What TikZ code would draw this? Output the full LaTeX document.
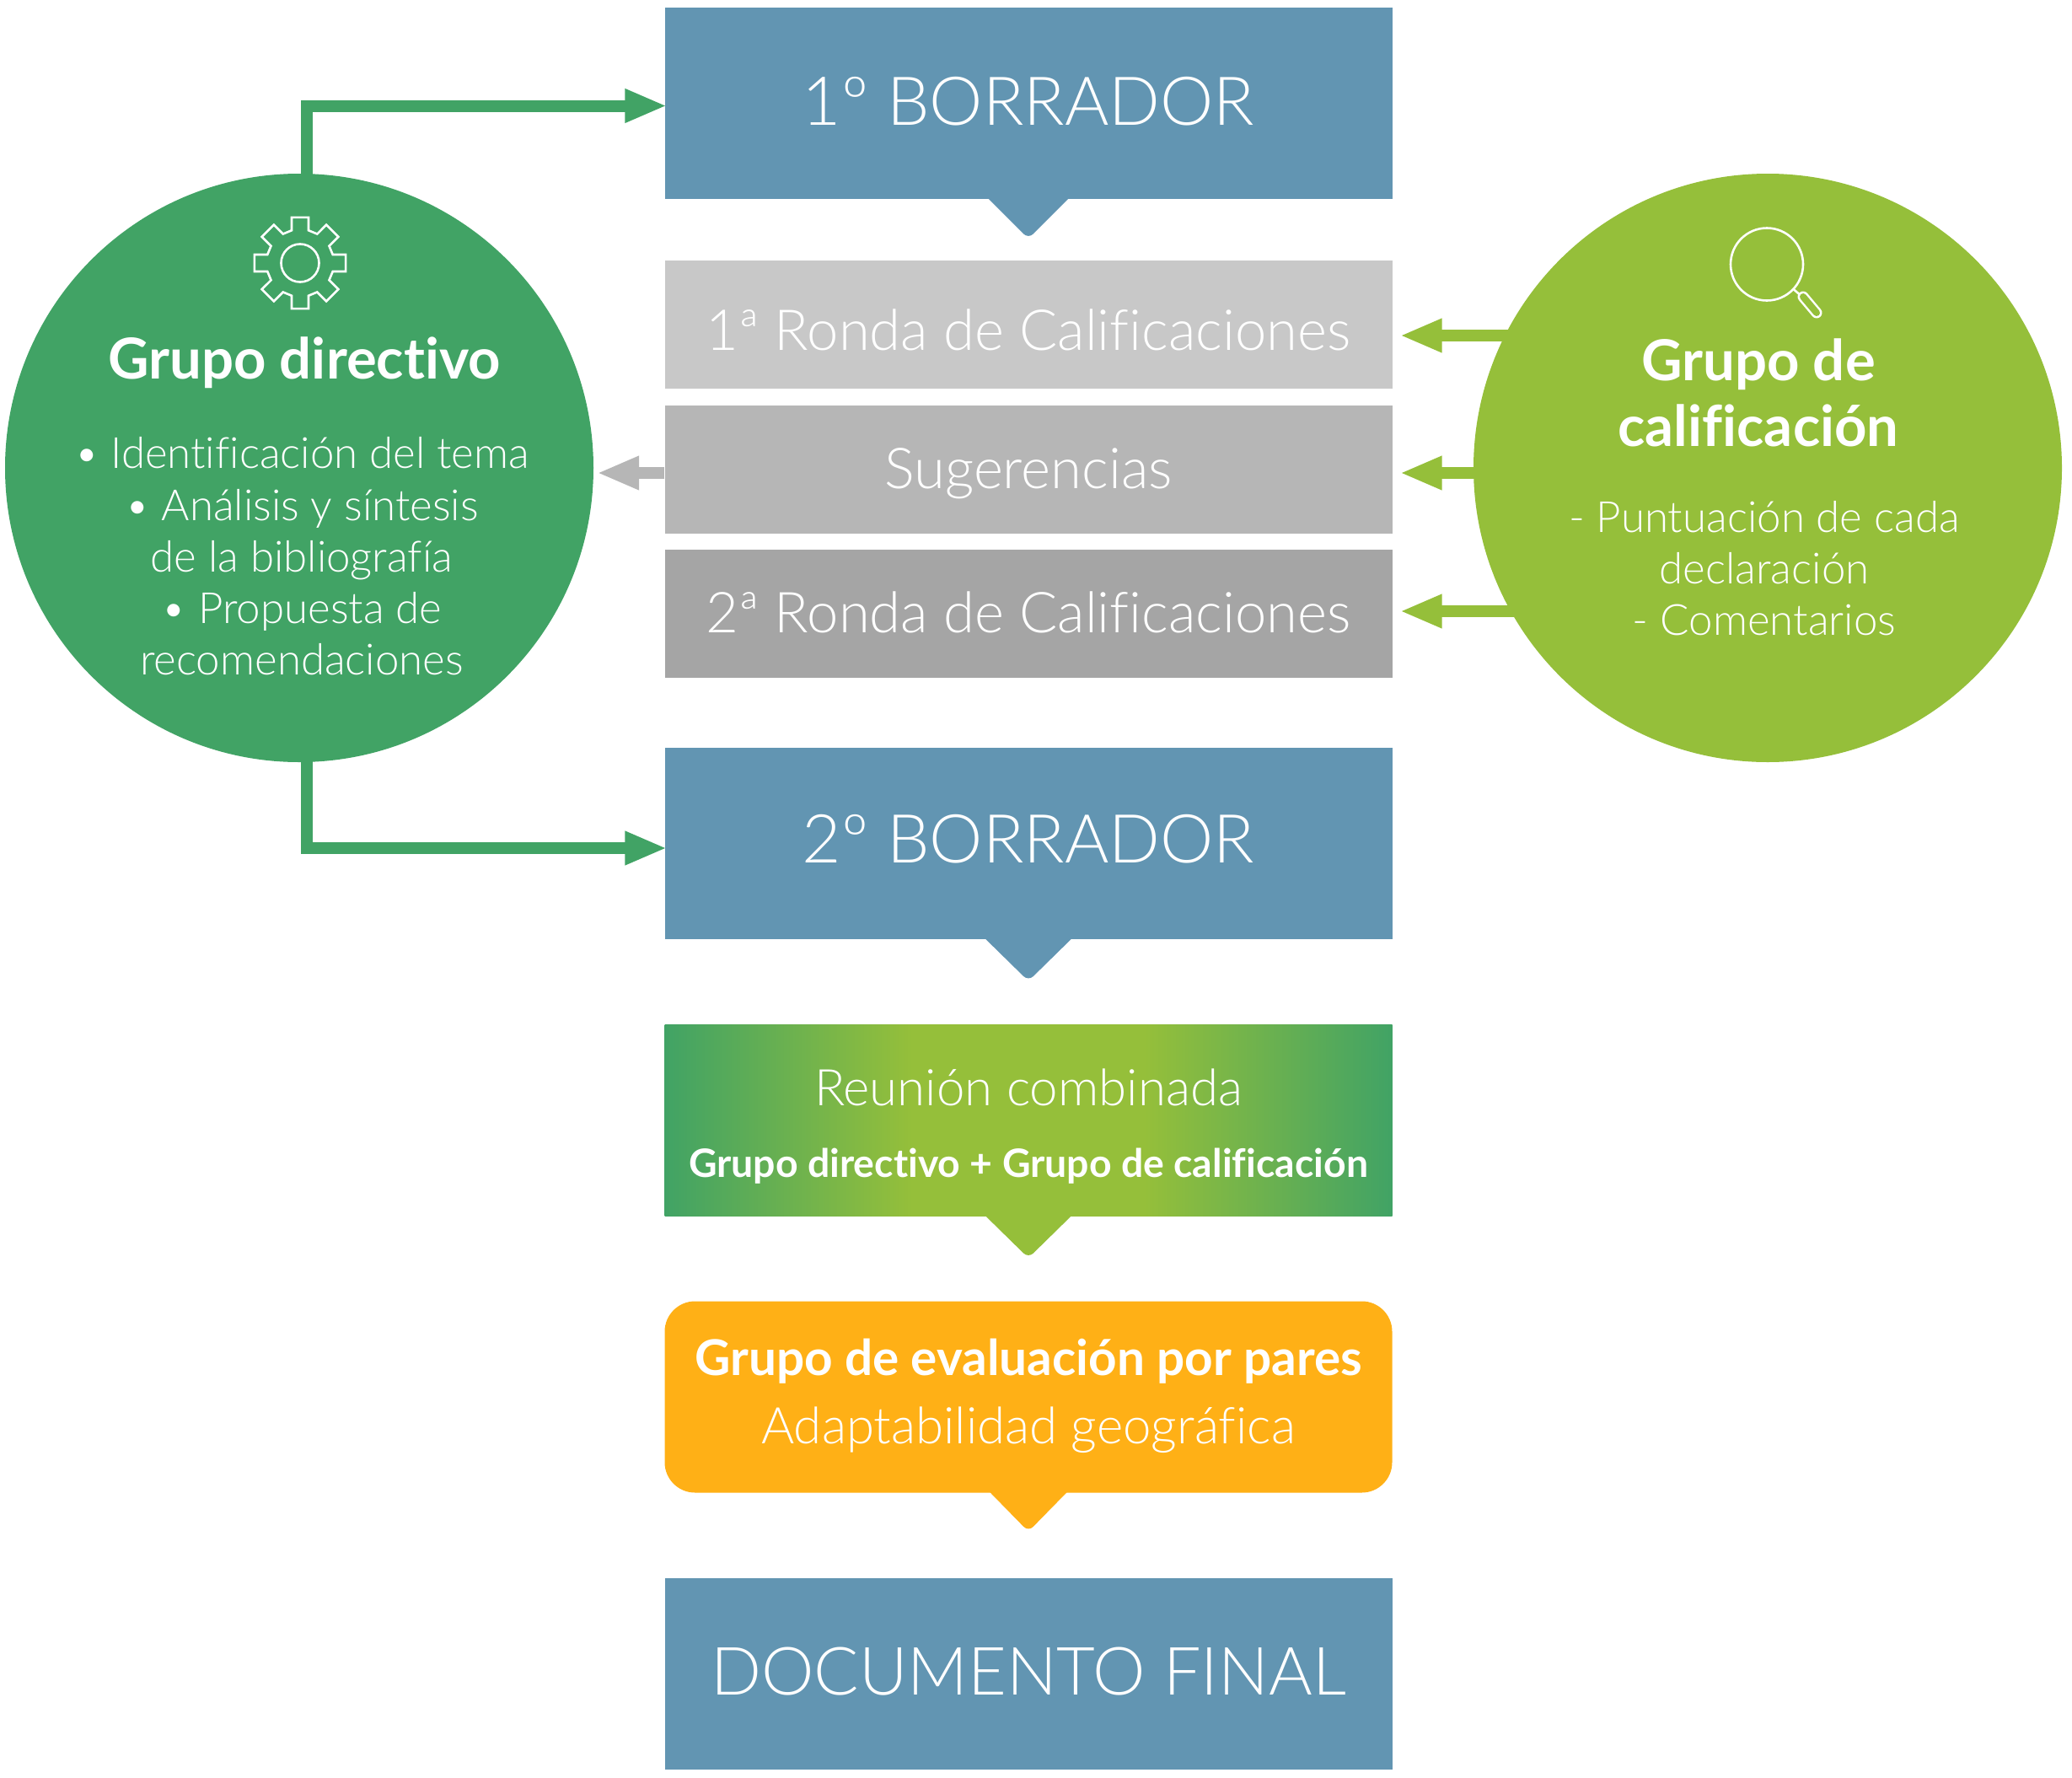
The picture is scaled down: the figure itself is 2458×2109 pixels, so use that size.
\documentclass[tikz,border=0pt]{standalone}
\usepackage{fontspec}
\usepackage{tikz}
\usetikzlibrary{arrows.meta,calc,shadings}
\setmainfont{Lato}[Ligatures=NoCommon]
\newfontfamily\lightfont{Lato Light}[Ligatures=NoCommon]
\definecolor{dirgreen} {HTML}{41A365}
\definecolor{callime}  {HTML}{95BF3A}
\definecolor{draftblue}{HTML}{6295B2}
\definecolor{peerorange}{HTML}{FFB016}
\definecolor{greya}    {HTML}{C8C8C8}
\definecolor{greyb}    {HTML}{B6B6B6}
\definecolor{greyc}    {HTML}{A5A5A5}
\pgfdeclarehorizontalshading{meeting}{100bp}{
  color(0bp)=(dirgreen); color(25bp)=(dirgreen); color(42bp)=(callime);
  color(58bp)=(callime); color(75bp)=(dirgreen); color(100bp)=(dirgreen)}
\tikzset{
  % --- nodes
  stage/.style  = {inner sep=0pt, minimum width=863pt, minimum height=227pt},
  roundbox/.style = {stage, minimum height=152pt},
  group/.style  = {circle, inner sep=0pt, minimum size=698pt},
  title/.style  = {align=center, text=white, font=\fontsize{67}{78}\selectfont\bfseries},
  body/.style   = {align=center, text=white, font=\fontsize{51}{61.3}\selectfont\lightfont},
  bigtxt/.style = {anchor=base, text=white, font=\fontsize{80}{96}\selectfont\lightfont},
  rowtxt/.style = {anchor=base, text=white, font=\fontsize{67}{80}\selectfont\lightfont},
  % --- edges
  icon/.style   = {draw=white, line width=2.6pt, line join=miter},
  feed/.style   = {-{Triangle[length=50pt,width=37pt]}, line width=14pt},
}
\begin{document}
\begin{tikzpicture}[x=1pt,y=-1pt]
  \useasboundingbox (0,0) rectangle (2458,2109);
  % groups
  \node[group,fill=dirgreen] (dir) at (355,555) {};
  \node[group,fill=callime]  (cal) at (2097,555) {};
  % stages
  \node[stage,fill=draftblue] (first) at (1220,122.5) {};
  \node[roundbox,fill=greya] (rone) at (1220,385) {};
  \node[roundbox,fill=greyb] (sug)  at (1220,556.5) {};
  \node[roundbox,fill=greyc] (rtwo) at (1220,728) {};
  \node[stage,fill=draftblue] (second) at (1220,1000) {};
  \node[stage,shading=meeting] (meet) at (1220,1328.5) {};
  \node[stage,fill=peerorange,rounded corners=36pt] (peer) at (1220,1657) {};
  \node[stage,fill=draftblue] (final) at (1220,1985.5) {};
  % notches
  \foreach \n/\c/\w/\h in {first/draftblue/48/47,second/draftblue/52/50,
                           meet/callime/52/50,peer/peerorange/46/46}
  {
    \fill[\c] ($(\n.south)+(-\w,-1)$) -- ($(\n.south)+(\w,-1)$)
      [rounded corners=8pt] -- ($(\n.south)+(0,\h)$) [sharp corners] -- cycle;
  }
  % texts
  \node[bigtxt] (firsttxt) at (1220,148) {1º BORRADOR};
  \node[rowtxt] (ronetxt) at (1220,415) {1ª Ronda de Calificaciones};
  \node[rowtxt] (sugtxt) at (1220,579) {Sugerencias};
  \node[rowtxt] (rtwotxt) at (1220,750) {2ª Ronda de Calificaciones};
  \node[bigtxt] (secondtxt) at (1220,1023) {2º BORRADOR};
  \node[bigtxt,font=\fontsize{79}{96}\selectfont\lightfont] (finaltxt) at (1220,2010) {DOCUMENTO FINAL};
  \node[body,font=\fontsize{60}{70}\selectfont\lightfont] (meetlight) at (1220,1290) {Reunión combinada};
  \node[title,font=\fontsize{46.4}{56}\selectfont\bfseries] (meetbold) at (1220,1383) {Grupo directivo + Grupo de calificación};
  \node[title,font=\fontsize{58.5}{70}\selectfont\bfseries] (peerbold) at (1220,1615) {Grupo de evaluación por pares};
  \node[body,font=\fontsize{60}{70}\selectfont\lightfont] (peerlight) at (1220,1696) {Adaptabilidad geográfica};
  \node[title] (dirtitle) at (361,430) {Grupo directivo};
  \node[body] (dirbody) at (358,660) {• Identificación del tema\\• Análisis y síntesis\\de la bibliografía\\• Propuesta de\\recomendaciones};
  \node[title] (caltitle) at (2086,466) {Grupo de\\calificación};
  \node[body] (calbody) at (2093,674) {- Puntuación de cada\\declaración\\- Comentarios};
  % gear
  \coordinate (gear) at (356,312);
  \draw[icon,shift={(gear)}] (-14.5:40)
    \foreach \a in {0,45,...,315} { -- ({\a-14.5}:40) -- ({\a-10.5}:55) -- ({\a+10.5}:55) -- ({\a+14.5}:40) } -- cycle;
  \draw[icon] (gear) circle (22.5);
  % magnifier
  \coordinate (lens) at (2096,313.5);
  \draw[icon] (lens) circle (43);
  \draw[icon] ($(lens)+(31,29)$) -- ++(8,7);
  \draw[white,line width=13pt,line cap=round] (2139,352) -- (2155,371);
  \draw[callime,line width=8pt,line cap=round] (2139,352) -- (2155,371);
  % connectors
  \draw[feed,draw=dirgreen] ($(dir.north)+(9,2)$) |- ($(first.west)+(3,3)$);
  \draw[feed,draw=dirgreen] ($(dir.south)+(9,-2)$) |- ($(second.west)+(3,6)$);
  \draw[feed,draw=greyb] ($(sug.west)+(0,4.5)$) -- ($(dir.east)+(4,6)$);
  \foreach \n/\y in {rone/398,sug/561,rtwo/725}
  {
    \draw[feed,draw=callime] (cal.center |- 0,\y) ++(-295,0) -- ($(\n.east |- 0,\y)+(9,0)$);
  }
\end{tikzpicture}
\end{document}
